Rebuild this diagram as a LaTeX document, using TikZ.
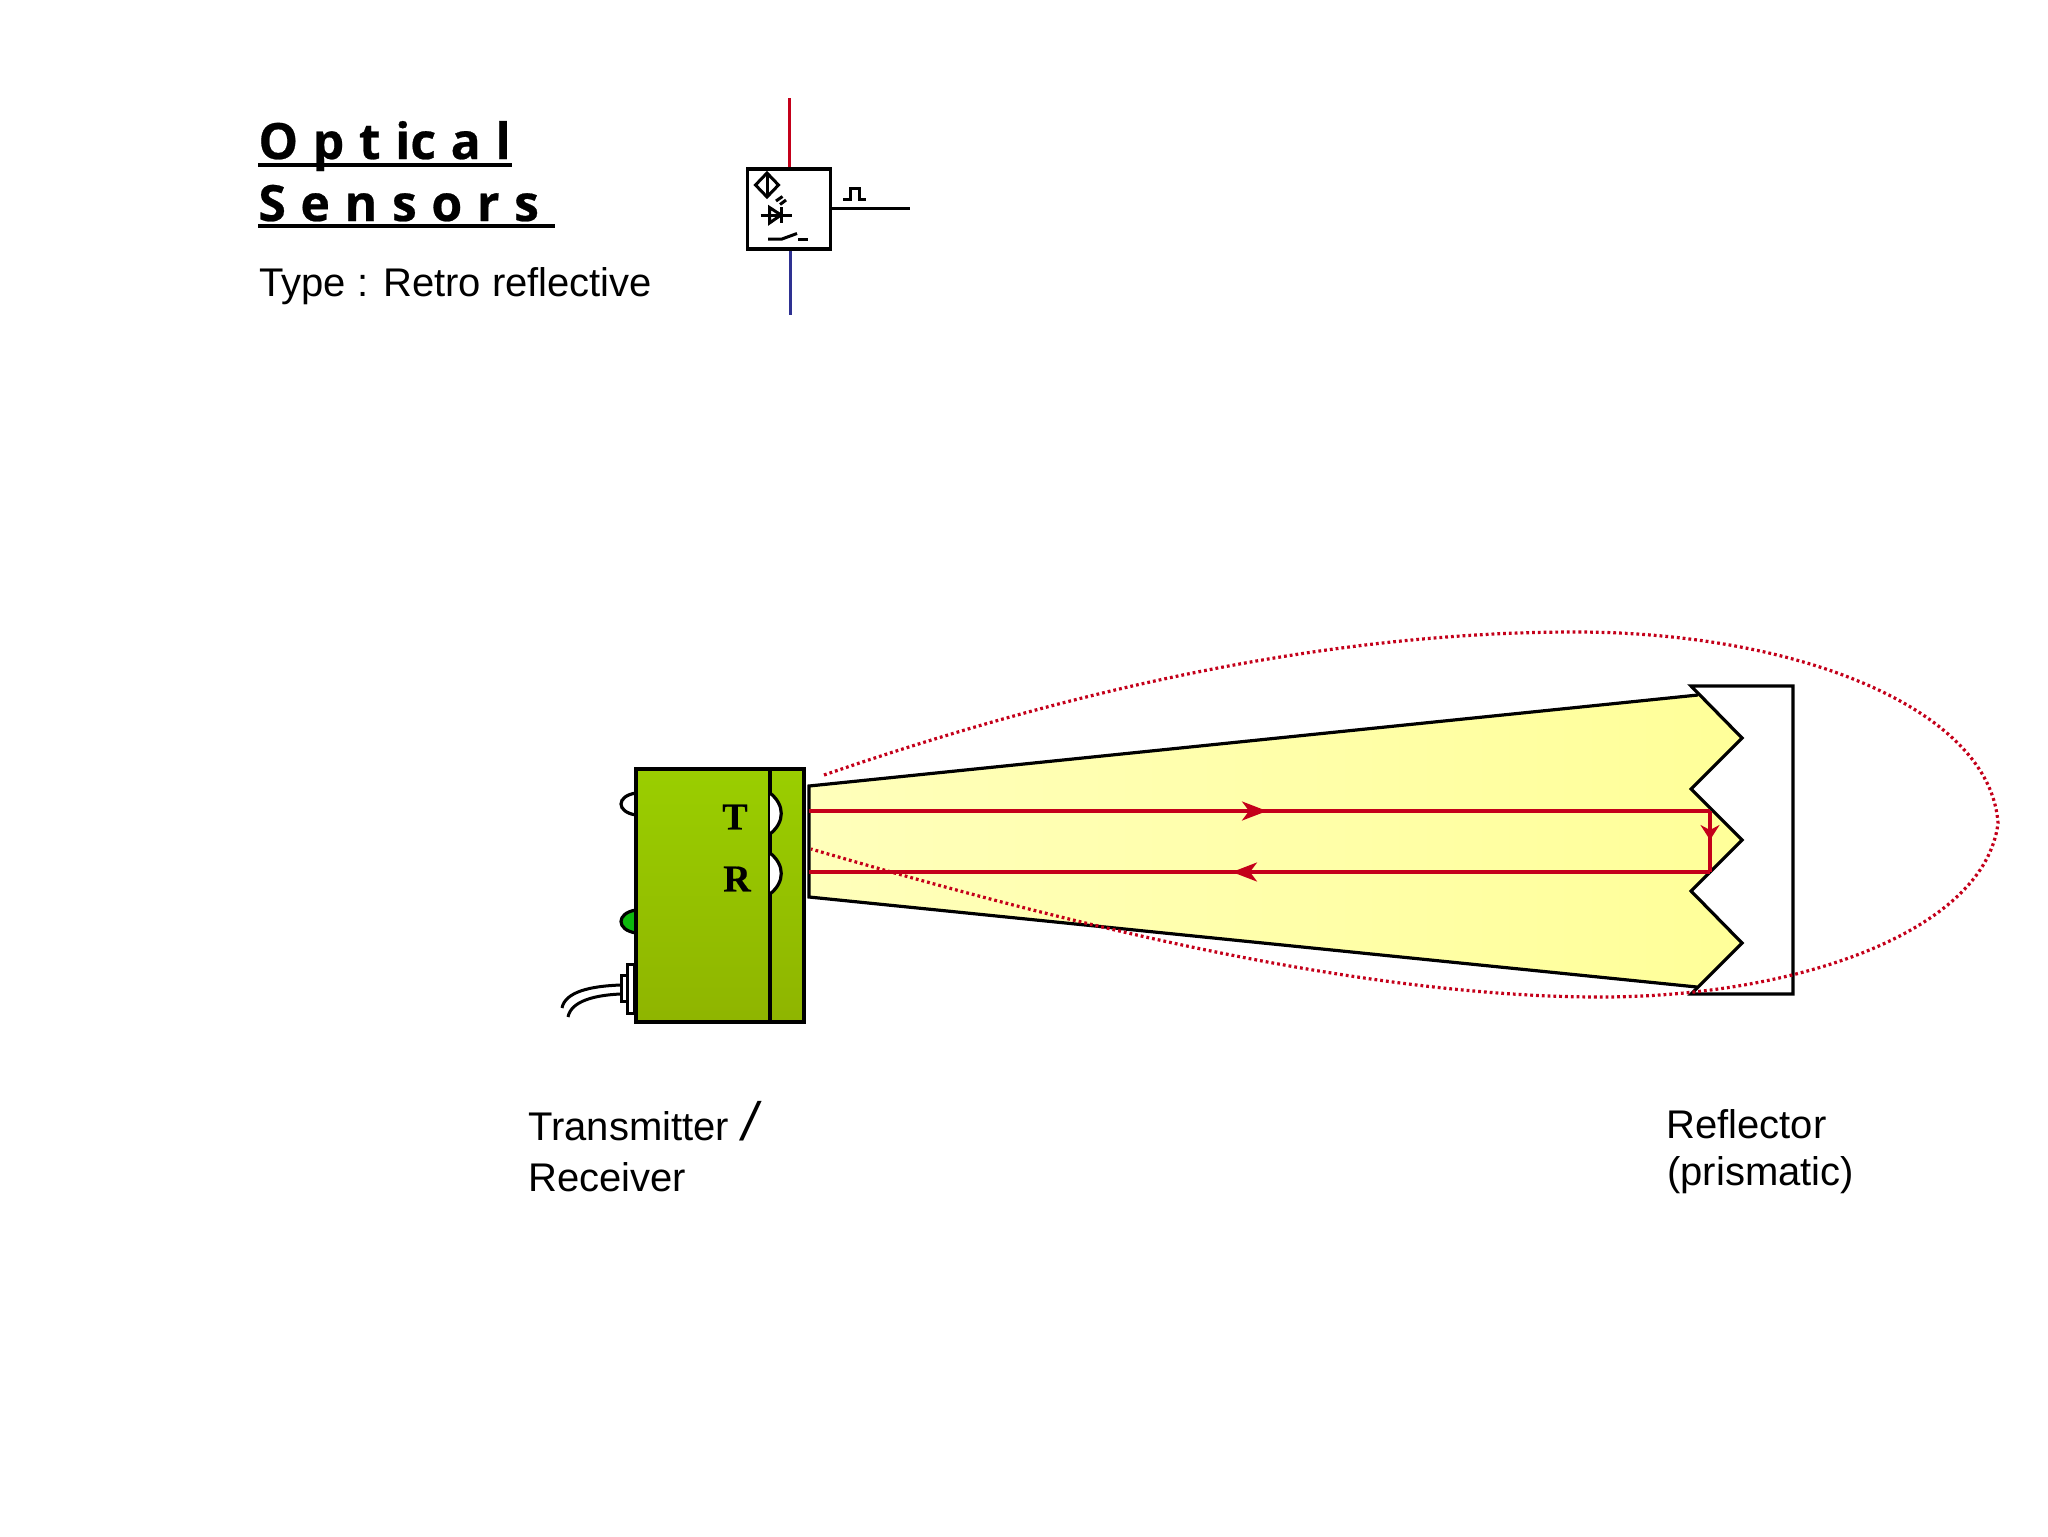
\documentclass[tikz,border=0pt]{standalone}
\usepackage{fontspec}
\setmainfont{Liberation Sans}
\newfontfamily\titlefont[WordSpace=1.12,BoldFeatures={FakeBold=0.5}]{Open Sans}
\newfontfamily\markfont[BoldFeatures={FakeBold=0.5}]{Liberation Serif}
\usetikzlibrary{arrows.meta}

\definecolor{rayred}{HTML}{C4001A}
\definecolor{wireblue}{HTML}{2E3192}
\definecolor{greentop}{HTML}{9ACE00}
\definecolor{greenbot}{HTML}{8FB500}
\definecolor{ledgreen}{HTML}{0DB80D}
\definecolor{beamleft}{HTML}{FFFFBB}
\definecolor{beamright}{HTML}{FFFF99}

\tikzset{
  outline/.style={draw=black,line width=1.6pt,line join=miter},
  thinline/.style={draw=black,line width=1.5pt},
  housing/.style={outline,top color=greentop,bottom color=greenbot},
  ray/.style={draw=rayred,line width=1.6pt},
  lobe/.style={draw=rayred,line width=1.6pt,dash pattern=on 1.4pt off 1.5pt},
  textlabel/.style={font=\fontsize{20}{24}\selectfont,anchor=base west,inner sep=0pt},
  heading/.style={font=\titlefont\bfseries\fontsize{25}{30}\selectfont,anchor=base west,inner sep=0pt},
  lensmark/.style={font=\markfont\bfseries\fontsize{19}{20}\selectfont,inner sep=0pt},
  forwardtip/.style={-{Stealth[length=12.5pt,width=9.5pt,inset=3.5pt]}},
  downtip/.style={-{Stealth[length=7.5pt,width=9.5pt,inset=2.5pt]}}
}

\begin{document}
\begin{tikzpicture}[x=0.5pt,y=-0.5pt]

      \useasboundingbox[fill=white] (0,0) rectangle (2048,1536);

      \node[heading] (optical) at (258,159) {O p t ic a l};
      \node[heading] (sensors) at (258,221) {S e n s o r s};
      \node[textlabel] (kind) at (259,296) {Type : Retro reflective};

      \coordinate (optend) at (512,165);
      \coordinate (senend) at (555,226);
      \draw[black,line width=2pt] (258,165) -- (optend);
      \draw[black,line width=2pt] (258,226) -- (senend);

      \begin{scope}[every node/.style={outline,minimum width=41.5pt,minimum height=40pt,inner sep=0pt,fill=white}]
        \node (icon) at (789,209) {};
      \end{scope}

      \coordinate (iconplus) at (789,98);
      \coordinate (iconminus) at (790,315);
      \coordinate (iconout) at (910,208);
      \draw[line width=1.5pt,draw=rayred] (icon.north) -- (iconplus);
      \draw[line width=1.5pt,draw=wireblue] (icon.south -| iconminus) -- (iconminus);
      \draw[thinline] (icon.east |- iconout) -- (iconout);
      \draw[thinline] (843,199) -- (850,199) -- (850,188) -- (859,188) -- (859,199) -- (866,199);

      \begin{scope}[line width=1.5pt]
        \draw (755.5,185) -- (767,173) -- (778.5,185) -- (767,197) -- cycle;
        \draw (767,173) -- (767,197);
        \draw (776,201) -- (782.5,196.5);
        \draw (780,204.5) -- (786,200);
        \draw (760.5,215) -- (792,215);
        \draw (769.5,207.5) -- (769.5,223) -- (781,215) -- cycle;
        \draw (781,207) -- (781,223);
        \draw (768,239) -- (782,239) -- (797,233.5);
        \draw (798,239) -- (808,239);
      \end{scope}

      \path[left color=beamleft,right color=beamright]
        (809,786) -- (1698,695) -- (1742,738) -- (1691,789) -- (1742,840) -- (1691,891)
        -- (1742,943) -- (1697,987) -- (809,897) -- cycle;
      \draw[outline] (1698,695) -- (809,786) -- (809,897) -- (1697,987);

      \draw[outline,fill=white] (1691,686) -- (1793,686) -- (1793,994) -- (1691,994)
        -- (1742,943) -- (1691,891) -- (1742,840) -- (1691,789) -- (1742,738) -- cycle;

      \coordinate (txstart) at (809,811);
      \coordinate (txmid) at (1267,811);
      \coordinate (txend) at (1710,811);
      \coordinate (downmid) at (1710,840);
      \coordinate (rxstart) at (1710,872);
      \coordinate (rxmid) at (1232,872);
      \coordinate (rxend) at (809,872);
      \draw[ray] (txstart) -- (txend);
      \draw[ray,forwardtip] (txstart) -- (txmid);
      \draw[ray,downtip] (txend) -- (downmid);
      \draw[ray] (txend) -- (rxstart);
      \draw[ray] (rxstart) -- (rxend);
      \draw[ray,forwardtip] (rxstart) -- (rxmid);

      \draw[outline,fill=white] (636,793) .. controls (616,796) and (616,812) .. (636,815);
      \draw[outline,fill=ledgreen] (636,910) .. controls (616,913) and (616,930) .. (636,933);
      \draw[thinline,fill=white] (627,964) rectangle (634,1013);
      \draw[thinline,fill=white] (621,975) rectangle (627,1001);
      \draw[thinline] (621,985) .. controls (590,986) and (565,992) .. (562,1008);
      \draw[thinline] (621,994) .. controls (595,995) and (571,1001) .. (568,1017);

      \begin{scope}[every node/.style={housing,inner sep=0pt}]
        \node[minimum width=84pt,minimum height=126.5pt] (body) at (720,895.5) {};
        \node[minimum width=17pt,minimum height=126.5pt] (front) at (787,895.5) {};
      \end{scope}

      \draw[outline,fill=white] (770,793) .. controls (785,805) and (785,822) .. (770,834);
      \draw[outline,fill=white] (770,853) .. controls (785,865) and (785,882) .. (770,894);
      \node[lensmark] (tmark) at (735,817) {T};
      \node[lensmark] (rmark) at (737,879) {R};

      \draw[lobe] (824,775) .. controls (1100,680) and (1350,632) .. (1575,632)
        .. controls (1800,632) and (1990,710) .. (1998,823)
        .. controls (1985,930) and (1800,997) .. (1600,997)
        .. controls (1340,997) and (1020,910) .. (811,849);

      \node[textlabel] (txlabel) at (528,1140) {Transmitter {\fontsize{27}{27}\selectfont\kern1pt\itshape /}};
      \node[textlabel] (rxlabel) at (528,1191) {Receiver};
      \node[textlabel] (reflabel) at (1666,1138) {Reflector};
      \node[textlabel] (prismlabel) at (1667,1185) {(prismatic)};

    \end{tikzpicture}
\end{document}
